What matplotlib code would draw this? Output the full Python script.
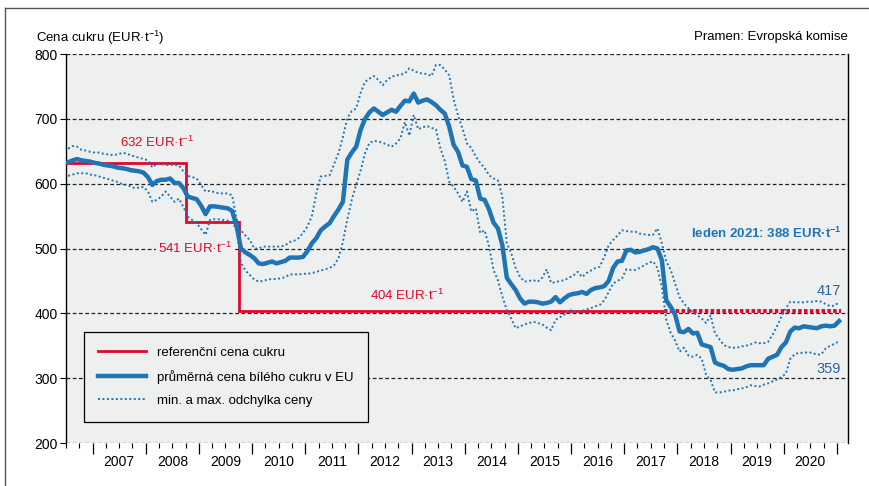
import numpy as np
import pandas as pd
import matplotlib
matplotlib.use('Agg')
import matplotlib.pyplot as plt
from matplotlib.lines import Line2D

plt.rcParams['font.family'] = ['Liberation Sans', 'DejaVu Sans']
plt.rcParams['mathtext.fontset'] = 'custom'
plt.rcParams['mathtext.rm'] = 'Liberation Sans'
plt.rcParams['mathtext.bf'] = 'Liberation Sans:bold'

# --- monthly data, Jul 2006 .. Jan 2021 (EUR/t) ---
first_month = '2006-07'

mean_price = [
    633, 636, 638, 636, 635, 634,                                  # 2006 (Jul-Dec)
    632, 631, 629, 628, 627, 625, 624, 623, 621, 620, 619, 617,    # 2007
    610, 598, 604, 606, 606, 608, 601, 601, 593, 580, 578, 576,    # 2008
    566, 553, 565, 565, 564, 563, 562, 558, 535, 500, 494, 490,    # 2009
    485, 477, 476, 478, 480, 477, 479, 481, 486, 486, 486, 487,    # 2010
    496, 508, 516, 528, 534, 539, 550, 560, 572, 637, 648, 657,    # 2011
    683, 700, 710, 716, 711, 706, 710, 714, 711, 720, 728, 727,    # 2012
    739, 725, 728, 730, 726, 721, 714, 708, 688, 660, 649, 628,    # 2013
    626, 607, 605, 577, 575, 560, 540, 531, 505, 455, 445, 436,    # 2014
    423, 415, 418, 418, 417, 415, 416, 418, 425, 417, 423, 428,    # 2015
    430, 431, 433, 430, 436, 439, 440, 442, 450, 470, 480, 481,    # 2016
    497, 498, 494, 495, 497, 499, 502, 500, 482, 420, 410, 398,    # 2017
    372, 371, 376, 369, 370, 352, 350, 348, 324, 321, 319, 314,    # 2018
    313, 314, 315, 318, 320, 320, 320, 320, 330, 333, 336, 348,    # 2019
    355, 372, 378, 377, 380, 379, 378, 377, 380, 381, 380, 381,    # 2020
    388,                                                           # 2021 (Jan)
]

max_price = [
    654, 658, 657, 652, 651, 649,
    648, 648, 646, 645, 644, 645, 647, 647, 644, 642, 640, 638,
    636, 625, 631, 630, 629, 629, 629, 628, 619, 612, 610, 608,
    598, 588, 589, 587, 585, 585, 585, 582, 546, 528, 520, 513,
    500, 500, 503, 503, 503, 503, 503, 505, 510, 512, 516, 524,
    534, 550, 585, 611, 612, 613, 630, 647, 672, 701, 712, 716,
    740, 757, 762, 766, 760, 752, 760, 765, 767, 768, 770, 778,
    774, 771, 770, 769, 766, 783, 783, 776, 767, 730, 705, 685,
    662, 655, 642, 632, 624, 613, 608, 605, 580, 508, 493, 470,
    456, 449, 450, 451, 449, 455, 468, 447, 448, 450, 451, 455,
    458, 464, 456, 462, 466, 470, 472, 487, 505, 513, 520, 528,
    527, 526, 526, 523, 522, 521, 521, 531, 508, 480, 467, 446,
    425, 415, 408, 402, 397, 392, 385, 397, 369, 360, 351, 348,
    347, 347, 349, 350, 352, 355, 354, 354, 356, 367, 380, 395,
    408, 418, 417, 417, 417, 418, 418, 419, 418, 414, 411, 412,
    417,
]

min_price = [
    612, 614, 616, 616, 616, 614,
    613, 611, 609, 607, 605, 603, 600, 598, 596, 593, 594, 595,
    588, 572, 575, 580, 588, 580, 572, 577, 564, 549, 544, 539,
    530, 521, 544, 545, 545, 544, 543, 540, 530, 478, 466, 459,
    452, 449, 450, 452, 453, 453, 454, 456, 460, 460, 460, 461,
    461, 462, 464, 466, 468, 470, 474, 485, 510, 545, 575, 598,
    620, 647, 663, 666, 665, 663, 660, 657, 662, 670, 695, 674,
    706, 684, 687, 689, 686, 684, 655, 635, 603, 595, 585, 572,
    588, 557, 562, 524, 528, 503, 467, 451, 426, 405, 392, 377,
    380, 383, 385, 387, 385, 383, 378, 374, 390, 394, 398, 406,
    403, 401, 404, 406, 408, 411, 413, 420, 433, 446, 450, 454,
    468, 467, 467, 470, 474, 478, 480, 470, 441, 390, 370, 358,
    341, 347, 335, 333, 336, 330, 305, 297, 278, 278, 279, 281,
    281, 283, 284, 286, 289, 288, 287, 290, 292, 295, 298, 302,
    307, 330, 337, 339, 339, 340, 339, 336, 337, 346, 350, 353,
    357,
]

# reference price: change dates and levels
ref_dates = ['2006-07-01', '2008-10-01', '2009-10-01', '2017-10-01']
ref_values = [632, 541, 404, 404]
ref_end = '2021-01-31'

years = list(range(2007, 2021))

RED = '#e2062c'
BLUE = '#1f74b4'
BG = '#eef0f0'
FS = 9.5


def to_year(d):
    d = pd.Timestamp(d)
    return d.year + (d.dayofyear - 1) / (366 if d.is_leap_year else 365)


months = pd.period_range(first_month, periods=len(mean_price), freq='M')
t = np.array([m.year + (m.month - 0.5) / 12 for m in months])

ref_t = [to_year(d) for d in ref_dates] + [to_year(ref_end)]

fig = plt.figure(figsize=(8.7, 4.86), dpi=100)
ax = fig.add_axes([66 / 870, 43 / 486, 782 / 870, 389 / 486])
ax.set_facecolor(BG)

# grid lines incl. top and bottom edge
for y in range(200, 801, 100):
    ax.axhline(y, color='#222222', lw=0.9, ls=(0, (3, 2)), zorder=1)

# reference price
rx = [ref_t[0], ref_t[1], ref_t[1], ref_t[2], ref_t[2], ref_t[3]]
ry = [ref_values[0], ref_values[0], ref_values[1], ref_values[1], ref_values[2], ref_values[2]]
ax.plot(rx, ry, color=RED, lw=2.0, zorder=3, solid_joinstyle='miter')
ax.plot([ref_t[3], ref_t[4]], [ref_values[3], ref_values[3]], color=RED, lw=2.8,
        ls=(0, (0.9, 0.6)), zorder=3)

# min / max and mean
ax.plot(t, max_price, color=BLUE, lw=1.4, ls=(0, (1, 1.3)), zorder=4)
ax.plot(t, min_price, color=BLUE, lw=1.4, ls=(0, (1, 1.3)), zorder=4)
ax.plot(t, mean_price, color=BLUE, lw=3.2, zorder=5, solid_joinstyle='round')

ax.set_xlim(2006.5, 2021.21)
ax.set_ylim(200, 800)

for s in ['top', 'bottom']:
    ax.spines[s].set_visible(False)
for s in ['left', 'right']:
    ax.spines[s].set_linewidth(1.0)

ax.set_yticks(range(200, 801, 100))
ax.tick_params(axis='y', length=4, width=0.8, pad=2, labelsize=10)
ax.set_xticks(range(2007, 2022))
ax.set_xticks(np.arange(2006.5, 2021.2, 0.25), minor=True)
ax.set_xticklabels([])
ax.tick_params(axis='x', which='major', length=8, width=0.9, direction='out')
ax.tick_params(axis='x', which='minor', length=3.5, width=0.8, direction='out')
for yr in years:
    ax.text(yr + 0.5, -0.048, str(yr), transform=ax.get_xaxis_transform(),
            ha='center', va='center', fontsize=10)

# annotations
ax.text(2008.21, 664, r'632 EUR·t$^{-1}$', color=RED, fontsize=FS,
        ha='center', va='center')
ax.text(2009.62, 500, r'541 EUR·t$^{-1}$', color=RED, fontsize=FS,
        ha='right', va='center',
        bbox=dict(facecolor=BG, edgecolor='none', pad=1.5))
ax.text(2012.92, 428, r'404 EUR·t$^{-1}$', color=RED, fontsize=FS,
        ha='center', va='center')
ax.text(2021.1, 524, r'leden 2021: 388 EUR·t$^{\mathbf{-1}}$', color=BLUE,
        fontsize=FS, fontweight='bold', ha='right', va='center')
ax.text(2021.07, 434, '417', color='#2a64a0', fontsize=10.5, ha='right', va='center')
ax.text(2021.07, 314, '359', color='#2a64a0', fontsize=10.5, ha='right', va='center')

# legend
handles = [
    Line2D([], [], color=RED, lw=2.0),
    Line2D([], [], color=BLUE, lw=3.2),
    Line2D([], [], color=BLUE, lw=1.4, ls=(0, (1, 1.3))),
]
labels = ['referenční cena cukru', 'průměrná cena bílého cukru v EU',
          'min. a max. odchylka ceny']
leg = ax.legend(handles, labels, loc='lower left', bbox_to_anchor=(0.023, 0.055),
                borderaxespad=0, fontsize=FS, handlelength=3.6, handletextpad=0.8,
                labelspacing=0.85, borderpad=1.1, fancybox=False, framealpha=1,
                facecolor=BG, edgecolor='black')
leg.get_frame().set_linewidth(0.9)
leg.set_zorder(6)

fig.text(36 / 870, 1 - 38 / 486, r'Cena cukru (EUR·t$^{-1}$)', fontsize=FS,
         ha='left', va='center')
fig.text(848 / 870, 1 - 37 / 486, 'Pramen: Evropská komise', fontsize=FS,
         ha='right', va='center')

# outer frame
fig.add_artist(Line2D([5 / 870, 5 / 870], [0, 1 - 8 / 486], color='#555555', lw=1.0,
                      transform=fig.transFigure))
fig.add_artist(Line2D([5 / 870, 1], [1 - 8 / 486, 1 - 8 / 486], color='#555555', lw=1.0,
                      transform=fig.transFigure))

fig.savefig('out.png', dpi=100, facecolor='white')
